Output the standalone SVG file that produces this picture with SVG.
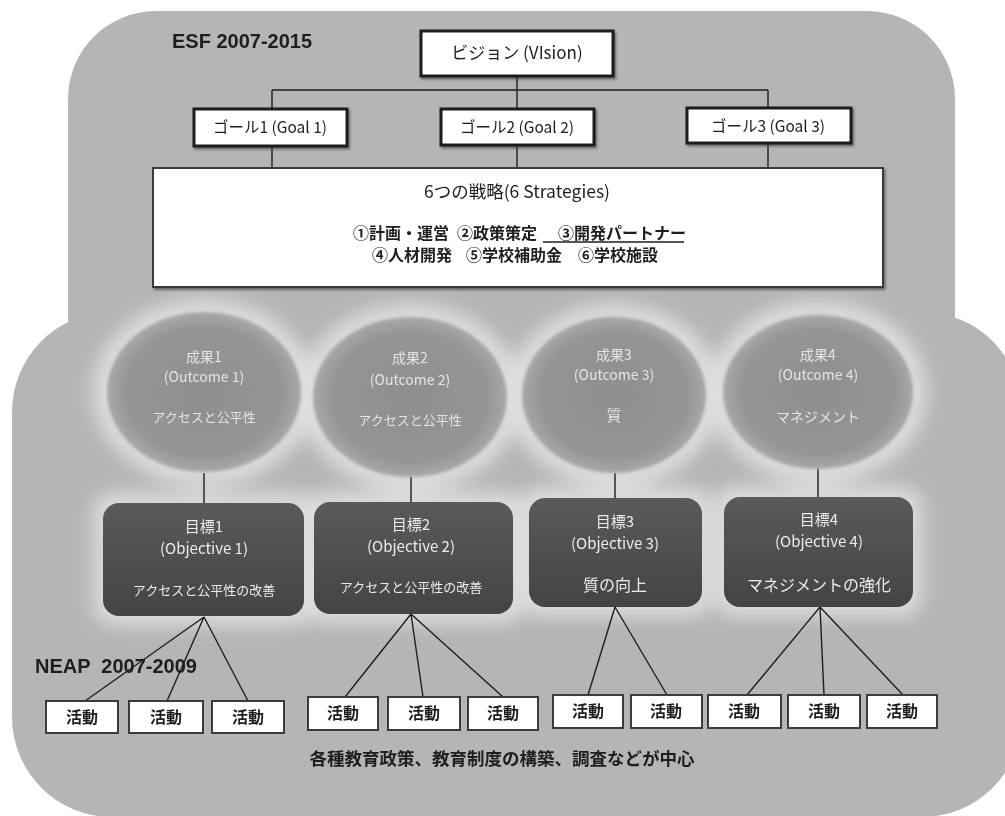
<svg xmlns="http://www.w3.org/2000/svg" width="1005" height="816" viewBox="0 0 1005 816">
<defs>
  <style>
    .jp { font-family: "Noto Sans CJK JP", "Noto Sans", sans-serif; }
    .lat { font-family: "Liberation Sans", Arial, sans-serif; font-weight: bold; fill: #1e1e1e; }
    .wbox { fill: #ffffff; stroke: #1c1c1c; stroke-width: 3; }
    .sbox { fill: #ffffff; stroke: #3a3a3a; stroke-width: 2; }
    .abox { fill: #ffffff; stroke: #3c3c3c; stroke-width: 2; }
    .obox { fill: #4d4d4d; }
    .dark { fill: #1e1e1e; }
    .light { fill: #ececec; }
    .eltxt { fill: #e4e4e4; }
    .conn { stroke: #1e1e1e; stroke-width: 1.4; fill: none; }
    .halo { fill: #e2e2e2; opacity: 0.85; }
  </style>
  <radialGradient id="ellg" cx="50%" cy="50%" r="50%">
    <stop offset="0%" stop-color="#8e8e8e"/>
    <stop offset="80%" stop-color="#959595"/>
    <stop offset="100%" stop-color="#a8a8a8"/>
  </radialGradient>
  <linearGradient id="objg" x1="0" y1="0" x2="0" y2="1">
    <stop offset="0%" stop-color="#5a5a5a"/>
    <stop offset="100%" stop-color="#444444"/>
  </linearGradient>
  <filter id="blur" x="-30%" y="-30%" width="160%" height="160%">
    <feGaussianBlur stdDeviation="9"/>
  </filter>
  <filter id="soft" x="-10%" y="-10%" width="120%" height="120%">
    <feGaussianBlur stdDeviation="1.5"/>
  </filter>
  <filter id="shadow" x="-10%" y="-10%" width="130%" height="140%">
    <feDropShadow dx="1.5" dy="2" stdDeviation="1" flood-color="#333" flood-opacity="0.6"/>
  </filter>
</defs>

<rect x="0" y="0" width="1005" height="816" fill="#ffffff"/>

<g id="background">
  <rect x="68" y="11" width="887" height="420" rx="88" ry="88" fill="#b5b5b5"/>
  <rect x="12" y="312" width="1010" height="505" rx="100" ry="100" fill="#b5b5b5"/>
  <!-- light glows around outcomes and objectives -->
  <g filter="url(#blur)">
    <ellipse class="halo" cx="204" cy="392" rx="112" ry="94"/>
    <ellipse class="halo" cx="410" cy="397" rx="112" ry="94"/>
    <ellipse class="halo" cx="614" cy="395" rx="108" ry="92"/>
    <ellipse class="halo" cx="818" cy="392" rx="110" ry="92"/>
    <rect class="halo" x="93" y="492" width="221" height="134" rx="20"/>
    <rect class="halo" x="304" y="491" width="219" height="133" rx="20"/>
    <rect class="halo" x="519" y="487" width="193" height="130" rx="20"/>
    <rect class="halo" x="714" y="486" width="209" height="131" rx="20"/>
  </g>
</g>

<g id="title-esf">
  <text class="lat" x="172" y="48" font-size="20">ESF 2007-2015</text>
</g>
<g id="title-neap">
  <text class="lat" x="35" y="673" font-size="20" xml:space="preserve">NEAP  2007-2009</text>
</g>

<g id="connectors">
  <path class="conn" d="M517,76 V90 M272,90 H768 M272,90 V109 M517,90 V109 M768,90 V108"/>
  <path class="conn" d="M272,146 V168 M517,145 V168 M768,143 V168"/>
  <path class="conn" d="M204,473 V503 M411,477 V502 M615,473 V498 M818,468 V497"/>
  <path class="conn" d="M204,617 L85,701 M204,617 L167,701 M204,617 L248,701"/>
  <path class="conn" d="M411,614 L345,697 M411,614 L423,697 M411,614 L503,697"/>
  <path class="conn" d="M615,607 L588,695 M615,607 L667,695"/>
  <path class="conn" d="M820,607 L747,695 M820,607 L824,695 M820,607 L903,695"/>
</g>

<g id="vision">
  <rect class="wbox" x="421" y="31" width="192" height="45" filter="url(#shadow)"/>
  <text class="jp dark" x="517" y="59" font-size="17" text-anchor="middle">ビジョン (VIsion)</text>
</g>

<g id="goal1">
  <rect class="wbox" x="194" y="109" width="153" height="37" filter="url(#shadow)"/>
  <text class="jp dark" x="270" y="133" font-size="15.5" text-anchor="middle">ゴール1 (Goal 1)</text>
</g>
<g id="goal2">
  <rect class="wbox" x="441" y="109" width="153" height="36" filter="url(#shadow)"/>
  <text class="jp dark" x="517" y="133" font-size="15.5" text-anchor="middle">ゴール2 (Goal 2)</text>
</g>
<g id="goal3">
  <rect class="wbox" x="687" y="108" width="164" height="35" filter="url(#shadow)"/>
  <text class="jp dark" x="768" y="132" font-size="15.5" text-anchor="middle">ゴール3 (Goal 3)</text>
</g>

<g id="strategies">
  <rect class="sbox" x="153" y="168" width="730" height="119" filter="url(#shadow)"/>
  <text class="jp dark" x="517" y="198" font-size="17.5" text-anchor="middle">6つの戦略(6 Strategies)</text>
  <text class="jp dark" y="239" font-size="16" font-weight="bold"><tspan x="353">①計画・運営</tspan><tspan x="457">②政策策定</tspan><tspan x="558">③開発パートナー</tspan></text>
  <line x1="543" y1="242" x2="684" y2="242" stroke="#1e1e1e" stroke-width="1.6"/>
  <text class="jp dark" y="261" font-size="16" font-weight="bold"><tspan x="372">④人材開発</tspan><tspan x="466">⑤学校補助金</tspan><tspan x="578">⑥学校施設</tspan></text>
</g>

<g id="outcome1">
  <ellipse cx="204" cy="392" rx="97" ry="80" fill="url(#ellg)" filter="url(#soft)"/>
  <text class="jp eltxt" x="204" y="362" font-size="14" text-anchor="middle">成果1</text>
  <text class="jp eltxt" x="204" y="382" font-size="14" text-anchor="middle">(Outcome 1)</text>
  <text class="jp eltxt" x="204" y="422" font-size="13" text-anchor="middle">アクセスと公平性</text>
</g>
<g id="outcome2">
  <ellipse cx="410" cy="397" rx="97" ry="80" fill="url(#ellg)" filter="url(#soft)"/>
  <text class="jp eltxt" x="410" y="363" font-size="14" text-anchor="middle">成果2</text>
  <text class="jp eltxt" x="410" y="385" font-size="14" text-anchor="middle">(Outcome 2)</text>
  <text class="jp eltxt" x="410" y="425" font-size="13" text-anchor="middle">アクセスと公平性</text>
</g>
<g id="outcome3">
  <ellipse cx="614" cy="395" rx="92" ry="78" fill="url(#ellg)" filter="url(#soft)"/>
  <text class="jp eltxt" x="614" y="360" font-size="14" text-anchor="middle">成果3</text>
  <text class="jp eltxt" x="614" y="380" font-size="14" text-anchor="middle">(Outcome 3)</text>
  <text class="jp eltxt" x="614" y="421" font-size="15" text-anchor="middle">質</text>
</g>
<g id="outcome4">
  <ellipse cx="818" cy="392" rx="95" ry="77" fill="url(#ellg)" filter="url(#soft)"/>
  <text class="jp eltxt" x="818" y="360" font-size="14" text-anchor="middle">成果4</text>
  <text class="jp eltxt" x="818" y="380" font-size="14" text-anchor="middle">(Outcome 4)</text>
  <text class="jp eltxt" x="818" y="422" font-size="14" text-anchor="middle">マネジメント</text>
</g>

<g id="objective1">
  <rect x="103" y="503" width="201" height="113" rx="16" fill="url(#objg)"/>
  <text class="jp light" x="204" y="532" font-size="15" text-anchor="middle">目標1</text>
  <text class="jp light" x="204" y="554" font-size="15" text-anchor="middle">(Objective 1)</text>
  <text class="jp light" x="204" y="595" font-size="13" text-anchor="middle">アクセスと公平性の改善</text>
</g>
<g id="objective2">
  <rect x="314" y="502" width="199" height="112" rx="16" fill="url(#objg)"/>
  <text class="jp light" x="411" y="530" font-size="15" text-anchor="middle">目標2</text>
  <text class="jp light" x="411" y="552" font-size="15" text-anchor="middle">(Objective 2)</text>
  <text class="jp light" x="411" y="592" font-size="13" text-anchor="middle">アクセスと公平性の改善</text>
</g>
<g id="objective3">
  <rect x="529" y="498" width="173" height="109" rx="16" fill="url(#objg)"/>
  <text class="jp light" x="615" y="527" font-size="15" text-anchor="middle">目標3</text>
  <text class="jp light" x="615" y="549" font-size="15" text-anchor="middle">(Objective 3)</text>
  <text class="jp light" x="615" y="591" font-size="16" text-anchor="middle">質の向上</text>
</g>
<g id="objective4">
  <rect x="724" y="497" width="189" height="110" rx="16" fill="url(#objg)"/>
  <text class="jp light" x="819" y="525" font-size="15" text-anchor="middle">目標4</text>
  <text class="jp light" x="819" y="547" font-size="15" text-anchor="middle">(Objective 4)</text>
  <text class="jp light" x="819" y="591" font-size="16" text-anchor="middle">マネジメントの強化</text>
</g>

<g id="activity1-1"><rect class="abox" x="46" y="701" width="72" height="32"/><text class="jp dark" x="82" y="723" font-size="16" font-weight="bold" text-anchor="middle">活動</text></g>
<g id="activity1-2"><rect class="abox" x="129" y="701" width="74" height="32"/><text class="jp dark" x="166" y="723" font-size="16" font-weight="bold" text-anchor="middle">活動</text></g>
<g id="activity1-3"><rect class="abox" x="212" y="701" width="72" height="32"/><text class="jp dark" x="248" y="723" font-size="16" font-weight="bold" text-anchor="middle">活動</text></g>

<g id="activity2-1"><rect class="abox" x="308" y="697" width="70" height="33"/><text class="jp dark" x="343" y="719" font-size="16" font-weight="bold" text-anchor="middle">活動</text></g>
<g id="activity2-2"><rect class="abox" x="388" y="697" width="72" height="33"/><text class="jp dark" x="424" y="719" font-size="16" font-weight="bold" text-anchor="middle">活動</text></g>
<g id="activity2-3"><rect class="abox" x="468" y="697" width="70" height="33"/><text class="jp dark" x="503" y="719" font-size="16" font-weight="bold" text-anchor="middle">活動</text></g>

<g id="activity3-1"><rect class="abox" x="553" y="695" width="70" height="33"/><text class="jp dark" x="588" y="717" font-size="16" font-weight="bold" text-anchor="middle">活動</text></g>
<g id="activity3-2"><rect class="abox" x="631" y="695" width="71" height="33"/><text class="jp dark" x="666" y="717" font-size="16" font-weight="bold" text-anchor="middle">活動</text></g>

<g id="activity4-1"><rect class="abox" x="708" y="695" width="73" height="33"/><text class="jp dark" x="744" y="717" font-size="16" font-weight="bold" text-anchor="middle">活動</text></g>
<g id="activity4-2"><rect class="abox" x="788" y="695" width="72" height="33"/><text class="jp dark" x="824" y="717" font-size="16" font-weight="bold" text-anchor="middle">活動</text></g>
<g id="activity4-3"><rect class="abox" x="867" y="695" width="70" height="33"/><text class="jp dark" x="902" y="717" font-size="16" font-weight="bold" text-anchor="middle">活動</text></g>

<g id="footer">
  <text class="jp dark" x="502" y="765" font-size="17.5" font-weight="bold" text-anchor="middle">各種教育政策、教育制度の構築、調査などが中心</text>
</g>
</svg>
